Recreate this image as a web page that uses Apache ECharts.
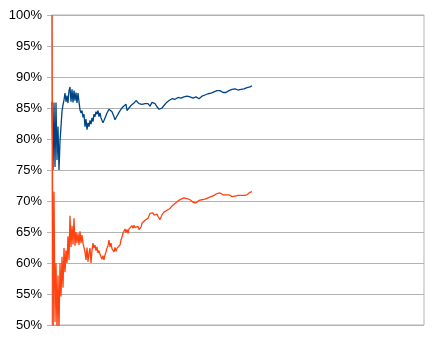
<!DOCTYPE html>
<html>
<head>
<meta charset="utf-8">
<script src="https://cdn.jsdelivr.net/npm/echarts@6/dist/echarts.min.js"></script>
<style>
html,body{margin:0;padding:0;background:#fff;}
#chart{width:434px;height:341px;}
</style>
</head>
<body>
<div id="chart"></div>
<script>
// total number of x slots (data occupies only the first part of the axis)
const slotCount = 373;
const categories = Array.from({length: slotCount}, (_, i) => String(i));

const seriesBlue = [
  86.0, 75.0, 85.9, 75.5, 85.9, 76.6, 82.0, 75.0, 79.6, 82.0,
  84.5, 85.5, 86.3, 87.4, 86.0, 87.0, 85.8, 87.8, 88.4, 86.0,
  88.0, 85.9, 87.8, 86.2, 87.5, 85.8, 87.4, 86.0, 84.7, 84.2,
  84.6, 83.5, 84.0, 82.0, 83.2, 81.5, 82.6, 82.0, 83.0, 82.4,
  83.4, 82.8, 84.0, 83.6, 84.4, 84.0, 84.6, 83.6, 84.2, 83.4,
  83.6, 82.6, 82.8, 83.4, 83.8, 84.2, 84.5, 84.8, 84.7, 84.9,
  84.4, 84.0, 83.6, 83.1, 83.4, 83.7, 84.0, 84.3, 84.5, 84.8,
  85.0, 85.2, 85.0, 85.3, 85.6, 84.6, 84.8, 85.0, 85.2, 85.4,
  85.3, 85.6, 85.8, 86.0, 86.2, 86.3, 86.0, 85.7, 85.4, 85.8,
  85.6, 85.9, 85.6, 85.7, 85.9, 85.6, 85.7, 85.4, 85.3, 85.6,
  85.9, 85.8, 86.0, 85.7, 85.4, 85.2, 85.0, 84.8, 84.5, 84.8,
  85.0, 85.2, 85.4, 85.6, 85.8, 85.9, 86.1, 86.2, 86.3, 86.4,
  86.5, 86.5, 86.6, 86.4, 86.7, 86.6, 86.7, 86.5, 86.8, 86.6,
  86.7, 86.4, 86.8, 86.6, 86.7, 86.9, 86.8, 86.7, 86.8, 86.9,
  86.8, 86.6, 86.7, 86.5, 86.8, 86.9, 86.6, 86.5, 86.6, 86.8,
  86.9, 87.0, 87.0, 87.1, 87.1, 87.2, 87.3, 87.3, 87.4, 87.4,
  87.5, 87.5, 87.6, 87.6, 87.7, 87.8, 87.9, 87.8, 87.8, 87.7,
  87.6, 87.5, 87.4, 87.4, 87.5, 87.6, 87.7, 87.8, 87.9, 88.0,
  88.0, 88.1, 88.0, 88.1, 88.0, 88.1, 87.9, 88.1, 88.2, 88.0,
  87.8, 88.0, 88.1, 88.2, 88.2, 88.3, 88.3, 88.4, 88.4, 88.5,
  88.6];

const seriesOrange = [
  100, 45.0, 71.5, 50.5, 60.0, 49.0, 58.0, 49.0, 60.0, 54.6,
  61.0, 56.0, 62.4, 58.5, 62.0, 60.0, 64.3, 60.5, 67.6, 62.6,
  66.0, 63.0, 67.2, 62.8, 65.0, 63.2, 64.8, 62.9, 65.1, 63.2,
  64.5, 63.2, 63.0, 61.8, 60.5, 62.5, 60.2, 61.6, 62.4, 60.0,
  62.0, 63.2, 62.4, 62.9, 62.0, 62.6, 61.6, 62.0, 61.4, 61.0,
  60.6, 61.2, 60.5, 61.3, 61.8, 62.4, 62.8, 63.7, 62.6, 63.2,
  62.3, 62.6, 61.8, 62.5, 61.9, 62.4, 62.6, 62.2, 62.9, 63.7,
  64.2, 64.8, 65.0, 65.5, 64.9, 65.4, 64.8, 65.5, 65.8, 65.4,
  66.0, 65.6, 66.1, 65.7, 66.0, 65.6, 65.9, 65.4, 65.5, 65.8,
  66.4, 66.5, 66.7, 66.9, 67.1, 67.0, 67.2, 67.6, 68.0, 68.3,
  67.8, 68.1, 67.7, 67.9, 67.6, 67.9, 67.5, 67.2, 67.0, 67.4,
  67.8, 68.0, 68.2, 68.3, 68.4, 68.5, 68.5, 68.6, 68.8, 69.0,
  69.2, 69.4, 69.5, 69.6, 69.8, 69.9, 70.0, 70.1, 70.2, 70.3,
  70.4, 70.4, 70.5, 70.4, 70.5, 70.4, 70.4, 70.3, 70.2, 70.1,
  70.0, 69.8, 69.7, 69.6, 69.7, 69.9, 70.0, 70.1, 70.2, 70.1,
  70.2, 70.3, 70.2, 70.3, 70.3, 70.4, 70.5, 70.5, 70.6, 70.7,
  70.7, 70.8, 70.9, 71.0, 71.1, 71.2, 71.3, 71.2, 71.3, 71.2,
  71.1, 71.0, 70.8, 70.7, 71.0, 71.1, 70.9, 71.0, 71.1, 70.9,
  70.7, 71.0, 70.9, 70.8, 70.9, 70.9, 70.9, 70.9, 70.9, 70.9,
  70.9, 70.9, 70.9, 70.9, 71.0, 71.0, 71.1, 71.3, 71.4, 71.4,
  71.5];

const yMin = 50, yMax = 100, yStep = 5;

const chart = echarts.init(document.getElementById('chart'), null, {renderer: 'canvas'});
chart.setOption({
  animation: false,
  backgroundColor: '#ffffff',
  grid: {left: 52, right: 10, top: 15, bottom: 16, containLabel: false,
         show: true, borderColor: '#b3b3b3', borderWidth: 1, backgroundColor: 'transparent'},
  xAxis: {
    type: 'category', data: categories, boundaryGap: false,
    axisLine: {show: false}, axisTick: {show: false}, axisLabel: {show: false},
    splitLine: {show: false}
  },
  yAxis: {
    type: 'value', min: yMin, max: yMax, interval: yStep,
    axisLine: {show: true, lineStyle: {color: '#b3b3b3'}},
    axisTick: {show: true, length: 5, lineStyle: {color: '#b3b3b3'}},
    axisLabel: {formatter: '{value}%', color: '#000000', fontFamily: 'Liberation Sans', fontSize: 13, margin: 10},
    splitLine: {show: true, lineStyle: {color: '#b3b3b3', width: 1}}
  },
  series: [
    {type: 'line', data: seriesBlue, symbol: 'none', clip: true,
     lineStyle: {color: '#004586', width: 1.3}, itemStyle: {color: '#004586'}},
    {type: 'line', data: seriesOrange, symbol: 'none', clip: true,
     lineStyle: {color: '#ff420e', width: 1.3}, itemStyle: {color: '#ff420e'}}
  ]
});
</script>
</body>
</html>
